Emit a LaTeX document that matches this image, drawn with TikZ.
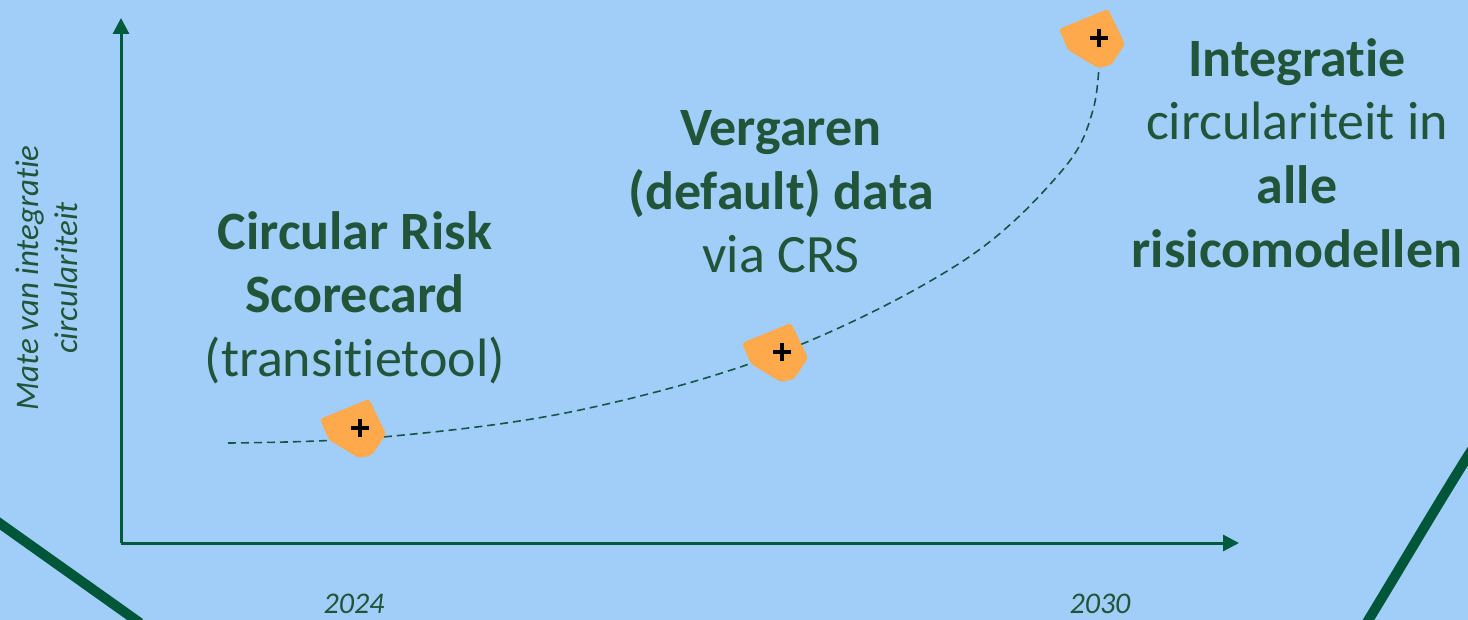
\documentclass[tikz,border=0pt]{standalone}
\usepackage{fontspec}
\setmainfont[Ligatures={NoCommon},RawFeature={-liga;-dlig}]{Carlito}
\usetikzlibrary{arrows.meta}
\definecolor{bgblue}{RGB}{160,206,248}
\definecolor{txtgreen}{RGB}{33,84,56}
\definecolor{axgreen}{RGB}{0,90,60}
\definecolor{thickgreen}{RGB}{0,86,56}
\definecolor{mkorange}{RGB}{255,169,77}
\definecolor{dashcol}{RGB}{20,85,70}
\tikzset{
  big/.style={font=\fontsize{54}{64}\selectfont, text=txtgreen, anchor=base, inner sep=0pt},
  bigb/.style={big, font=\fontsize{54}{64}\selectfont\bfseries},
  axlabel/.style={font=\fontsize{33}{40}\selectfont\itshape, text=txtgreen, anchor=base, inner sep=0pt, rotate=90},
  year/.style={font=\fontsize{30}{36}\selectfont\itshape, text=txtgreen, anchor=base, inner sep=0pt},
  axisline/.style={draw=axgreen, line width=3pt, -{Triangle[length=16pt,width=16pt]}},
  thick line/.style={draw=thickgreen, line width=10pt},
  marker/.style={fill=mkorange, rounded corners=3pt},
  plusmark/.style={draw=black, line width=4.5pt},
  pathdash/.style={draw=dashcol, line width=1.6pt, dash pattern=on 8pt off 5pt}
}
\begin{document}
\begin{tikzpicture}[x=1pt,y=-1pt]
\useasboundingbox (0,0) rectangle (1468,620);
\fill[bgblue] (0,0) rectangle (1468,620);

% decorative thick lines
\coordinate (tl1) at (-5,520);
\coordinate (tl2) at (140,623);
\draw[thick line] (tl1) -- (tl2);
\coordinate (tr1) at (1473,448);
\coordinate (tr2) at (1366,624);
\draw[thick line] (tr1) .. controls (1440,500) and (1405,560) .. (tr2);

% axes
\coordinate (origin) at (121,543);
\coordinate (ytip) at (121,18);
\coordinate (xtip) at (1239,543);
\draw[axisline] (origin) -- (ytip);
\draw[axisline] (origin) -- (xtip);

% axis labels
\node[axlabel] (ylab1) at (38,278) {Mate van integratie};
\node[axlabel] (ylab2) at (77,278) {circulariteit};
\node[year] (y2024) at (354,613) {2024};
\node[year] (y2030) at (1100,613) {2030};

% dashed curve
\draw[pathdash] plot[smooth, tension=0.6] coordinates {(228,443) (383,437) (580,410) (782,352) (960,263) (1060,173) (1093,110) (1100,40)};

% markers
\foreach \n/\cx/\cy in {m1/360/428, m2/782/352, m3/1099/38}{
  \coordinate (\n) at (\cx,\cy);
  \fill[marker] ([shift={(-40,-9)}]\n) -- ([shift={(9,-29)}]\n) -- ([shift={(26,6)}]\n) -- ([shift={(12,27)}]\n) -- ([shift={(-1,30)}]\n) -- ([shift={(-31,12)}]\n) -- cycle;
  \draw[plusmark] ([shift={(-9,0)}]\n) -- ([shift={(9,0)}]\n);
  \draw[plusmark] ([shift={(0,-9)}]\n) -- ([shift={(0,9)}]\n);
}

% texts
\node[bigb] (t1a) at (355,250) {Circular Risk};
\node[bigb] (t1b) at (355,313) {Scorecard};
\node[big] (t1c) at (355,377) {(transitietool)};

\node[bigb] (t2a) at (781,146) {Vergaren};
\node[bigb] (t2b) at (781,210) {(default) data};
\node[big] (t2c) at (781,273) {via CRS};

\node[bigb] (t3a) at (1297,77) {Integratie};
\node[big] (t3b) at (1297,140) {circulariteit in};
\node[bigb] (t3c) at (1297,204) {alle};
\node[bigb] (t3d) at (1297,268) {risicomodellen};
\end{tikzpicture}
\end{document}
